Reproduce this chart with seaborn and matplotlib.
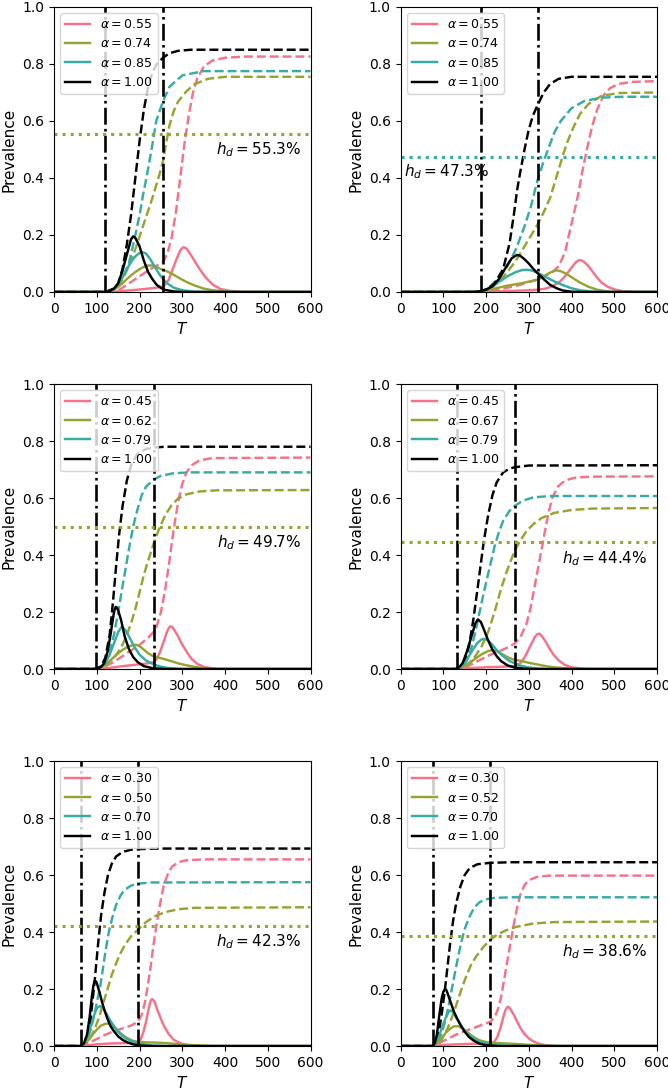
import matplotlib
matplotlib.use("Agg")
import matplotlib.pyplot as plt
import pandas as pd
import seaborn as sns

# -------------------------------------------------
# values, (T, prevalence) pairs
# -------------------------------------------------

# top-left
A_ALPHA = [0.55, 0.74, 0.85, 1.00]
A_SWITCH = [120, 255]
A_HD = 55.3
A_SOLID = [
    [(0, 0), (120, 0), (150, 0.002), (180, 0.006), (210, 0.01), (240, 0.015), (255, 0.02), (262, 0.03), (268, 0.042), (275, 0.07), (285, 0.11), (295, 0.145), (299, 0.153), (303, 0.157), (310, 0.152), (320, 0.13), (330, 0.105), (342, 0.077), (355, 0.05), (372, 0.025), (390, 0.01), (410, 0.004), (440, 0), (600, 0)],
    [(0, 0), (120, 0), (130, 0.002), (140, 0.008), (150, 0.018), (160, 0.03), (170, 0.045), (180, 0.058), (190, 0.07), (200, 0.08), (210, 0.088), (220, 0.093), (230, 0.093), (240, 0.088), (250, 0.08), (255, 0.076), (265, 0.072), (280, 0.06), (295, 0.047), (310, 0.035), (330, 0.022), (350, 0.012), (370, 0.006), (400, 0.002), (430, 0), (600, 0)],
    [(0, 0), (120, 0), (130, 0.003), (140, 0.01), (150, 0.025), (160, 0.05), (170, 0.08), (180, 0.105), (190, 0.125), (200, 0.137), (206, 0.14), (215, 0.135), (225, 0.115), (235, 0.09), (245, 0.065), (255, 0.045), (265, 0.03), (280, 0.015), (300, 0.006), (330, 0.001), (360, 0), (600, 0)],
    [(0, 0), (120, 0), (130, 0.003), (140, 0.012), (150, 0.03), (160, 0.075), (170, 0.13), (180, 0.185), (185, 0.195), (190, 0.19), (200, 0.16), (210, 0.11), (220, 0.07), (230, 0.045), (240, 0.025), (250, 0.014), (260, 0.007), (280, 0.002), (300, 0), (600, 0)],
]
A_DASHED = [
    [(0, 0), (120, 0), (150, 0.005), (175, 0.03), (200, 0.055), (225, 0.08), (255, 0.105), (265, 0.135), (275, 0.19), (285, 0.28), (295, 0.4), (305, 0.52), (315, 0.62), (325, 0.7), (335, 0.75), (350, 0.79), (370, 0.812), (400, 0.822), (450, 0.826), (600, 0.826)],
    [(0, 0), (120, 0), (140, 0.008), (150, 0.02), (160, 0.045), (170, 0.075), (180, 0.11), (190, 0.15), (200, 0.195), (210, 0.24), (220, 0.285), (230, 0.33), (245, 0.405), (255, 0.46), (263, 0.53), (270, 0.585), (280, 0.635), (290, 0.668), (310, 0.705), (330, 0.73), (360, 0.748), (400, 0.755), (600, 0.755)],
    [(0, 0), (120, 0), (140, 0.01), (150, 0.025), (160, 0.05), (175, 0.1), (190, 0.2), (200, 0.27), (208, 0.34), (216, 0.4), (228, 0.5), (239, 0.6), (255, 0.67), (270, 0.72), (300, 0.76), (350, 0.775), (600, 0.775)],
    [(0, 0), (120, 0), (140, 0.012), (150, 0.03), (160, 0.08), (170, 0.165), (180, 0.27), (190, 0.4), (200, 0.53), (210, 0.64), (220, 0.72), (230, 0.77), (240, 0.8), (255, 0.822), (270, 0.838), (290, 0.846), (320, 0.85), (600, 0.85)],
]

# top-right
B_ALPHA = [0.55, 0.74, 0.85, 1.00]
B_SWITCH = [189, 322]
B_HD = 47.3
B_SOLID = [
    [(0, 0), (189, 0), (250, 0.003), (300, 0.006), (322, 0.008), (340, 0.012), (355, 0.02), (372, 0.035), (385, 0.055), (395, 0.075), (405, 0.095), (411, 0.105), (418, 0.112), (424, 0.11), (430, 0.105), (440, 0.09), (450, 0.07), (460, 0.05), (470, 0.033), (485, 0.018), (500, 0.009), (520, 0.003), (550, 0), (600, 0)],
    [(0, 0), (180, 0), (189, 0.002), (200, 0.005), (220, 0.012), (250, 0.022), (280, 0.03), (300, 0.036), (322, 0.043), (335, 0.055), (350, 0.068), (364, 0.076), (375, 0.073), (390, 0.062), (405, 0.047), (420, 0.033), (440, 0.018), (460, 0.008), (480, 0.003), (500, 0), (600, 0)],
    [(0, 0), (170, 0), (189, 0.003), (200, 0.008), (215, 0.02), (230, 0.035), (250, 0.055), (270, 0.07), (285, 0.077), (298, 0.078), (310, 0.074), (322, 0.066), (340, 0.052), (360, 0.037), (380, 0.024), (400, 0.013), (420, 0.006), (450, 0.001), (470, 0), (600, 0)],
    [(0, 0), (170, 0), (189, 0.003), (200, 0.008), (215, 0.02), (230, 0.045), (240, 0.07), (250, 0.095), (260, 0.118), (272, 0.13), (280, 0.127), (290, 0.115), (300, 0.1), (310, 0.082), (322, 0.064), (335, 0.045), (350, 0.025), (365, 0.013), (380, 0.005), (400, 0.001), (420, 0), (600, 0)],
]
B_DASHED = [
    [(0, 0), (189, 0), (220, 0.005), (250, 0.015), (280, 0.025), (300, 0.035), (322, 0.045), (340, 0.058), (355, 0.07), (370, 0.09), (385, 0.14), (400, 0.24), (414, 0.33), (425, 0.42), (436, 0.5), (448, 0.58), (460, 0.64), (475, 0.69), (490, 0.715), (510, 0.73), (540, 0.737), (600, 0.74)],
    [(0, 0), (189, 0), (210, 0.012), (230, 0.035), (250, 0.07), (270, 0.11), (290, 0.16), (310, 0.21), (322, 0.24), (335, 0.28), (350, 0.33), (360, 0.38), (370, 0.43), (380, 0.48), (390, 0.525), (405, 0.58), (420, 0.625), (440, 0.66), (470, 0.688), (510, 0.698), (600, 0.7)],
    [(0, 0), (189, 0), (210, 0.02), (230, 0.05), (250, 0.09), (270, 0.15), (290, 0.23), (305, 0.3), (315, 0.36), (322, 0.4), (333, 0.45), (345, 0.5), (360, 0.56), (375, 0.6), (400, 0.645), (430, 0.67), (470, 0.682), (520, 0.685), (600, 0.685)],
    [(0, 0), (180, 0), (189, 0.003), (205, 0.012), (220, 0.03), (240, 0.08), (255, 0.17), (265, 0.27), (273, 0.36), (280, 0.42), (290, 0.5), (300, 0.57), (310, 0.62), (322, 0.66), (335, 0.7), (350, 0.73), (370, 0.748), (400, 0.755), (600, 0.755)],
]

# middle-left
C_ALPHA = [0.45, 0.62, 0.79, 1.00]
C_SWITCH = [99, 233]
C_HD = 49.7
C_SOLID = [
    [(0, 0), (99, 0), (130, 0.004), (160, 0.01), (190, 0.015), (220, 0.02), (233, 0.024), (240, 0.035), (248, 0.06), (256, 0.095), (264, 0.13), (268, 0.143), (272, 0.15), (276, 0.148), (280, 0.14), (290, 0.115), (300, 0.085), (311, 0.058), (322, 0.035), (335, 0.018), (350, 0.008), (370, 0.002), (400, 0), (600, 0)],
    [(0, 0), (99, 0), (110, 0.005), (120, 0.015), (130, 0.028), (140, 0.042), (150, 0.055), (160, 0.067), (170, 0.076), (180, 0.082), (192, 0.085), (200, 0.08), (210, 0.068), (220, 0.055), (233, 0.044), (245, 0.04), (260, 0.034), (275, 0.027), (290, 0.02), (310, 0.013), (330, 0.007), (350, 0.003), (380, 0), (600, 0)],
    [(0, 0), (99, 0), (110, 0.006), (120, 0.02), (130, 0.05), (140, 0.09), (150, 0.13), (158, 0.148), (165, 0.14), (175, 0.115), (187, 0.08), (200, 0.05), (215, 0.03), (233, 0.016), (250, 0.008), (270, 0.003), (300, 0), (600, 0)],
    [(0, 0), (95, 0), (100, 0.001), (110, 0.008), (117, 0.02), (125, 0.06), (132, 0.12), (138, 0.18), (141, 0.205), (144, 0.218), (147, 0.215), (150, 0.205), (157, 0.17), (165, 0.115), (175, 0.07), (185, 0.042), (195, 0.025), (210, 0.01), (230, 0.003), (260, 0), (600, 0)],
]
C_DASHED = [
    [(0, 0), (99, 0), (120, 0.01), (140, 0.025), (160, 0.045), (180, 0.065), (200, 0.085), (220, 0.11), (233, 0.13), (240, 0.15), (250, 0.2), (260, 0.28), (268, 0.36), (276, 0.45), (284, 0.53), (292, 0.6), (300, 0.65), (310, 0.69), (322, 0.715), (340, 0.732), (370, 0.74), (600, 0.742)],
    [(0, 0), (99, 0), (110, 0.004), (120, 0.012), (130, 0.025), (140, 0.04), (150, 0.06), (160, 0.085), (170, 0.12), (180, 0.16), (190, 0.21), (200, 0.27), (210, 0.33), (220, 0.38), (233, 0.44), (245, 0.49), (260, 0.54), (275, 0.575), (290, 0.598), (310, 0.613), (340, 0.623), (380, 0.627), (600, 0.628)],
    [(0, 0), (99, 0), (110, 0.006), (120, 0.025), (130, 0.06), (140, 0.12), (150, 0.2), (160, 0.29), (167, 0.35), (175, 0.42), (185, 0.5), (195, 0.56), (205, 0.61), (215, 0.64), (233, 0.665), (250, 0.678), (280, 0.687), (320, 0.69), (600, 0.69)],
    [(0, 0), (99, 0), (110, 0.01), (120, 0.04), (130, 0.12), (138, 0.24), (145, 0.36), (152, 0.47), (160, 0.57), (170, 0.66), (180, 0.715), (195, 0.755), (215, 0.772), (233, 0.777), (260, 0.78), (600, 0.78)],
]

# middle-right
D_ALPHA = [0.45, 0.67, 0.79, 1.00]
D_SWITCH = [132, 267]
D_HD = 44.4
D_SOLID = [
    [(0, 0), (132, 0), (160, 0.003), (200, 0.006), (240, 0.008), (267, 0.01), (280, 0.02), (290, 0.04), (300, 0.07), (310, 0.1), (315, 0.114), (320, 0.122), (324, 0.124), (328, 0.12), (338, 0.1), (348, 0.073), (358, 0.05), (370, 0.03), (385, 0.014), (400, 0.006), (430, 0.001), (450, 0), (600, 0)],
    [(0, 0), (132, 0), (145, 0.007), (160, 0.02), (175, 0.036), (190, 0.052), (205, 0.063), (215, 0.066), (225, 0.063), (240, 0.05), (255, 0.038), (267, 0.032), (280, 0.029), (300, 0.022), (320, 0.016), (340, 0.01), (360, 0.006), (390, 0.002), (420, 0), (600, 0)],
    [(0, 0), (132, 0), (140, 0.005), (150, 0.02), (160, 0.045), (170, 0.07), (180, 0.092), (190, 0.104), (197, 0.106), (205, 0.1), (215, 0.085), (225, 0.066), (240, 0.045), (255, 0.028), (267, 0.02), (280, 0.012), (300, 0.005), (330, 0.001), (350, 0), (600, 0)],
    [(0, 0), (130, 0), (135, 0.003), (145, 0.02), (155, 0.06), (165, 0.11), (175, 0.16), (181, 0.174), (188, 0.165), (196, 0.135), (205, 0.1), (215, 0.068), (225, 0.045), (235, 0.028), (250, 0.013), (265, 0.006), (290, 0.001), (320, 0), (600, 0)],
]
D_DASHED = [
    [(0, 0), (132, 0), (150, 0.005), (170, 0.02), (190, 0.035), (210, 0.05), (230, 0.062), (250, 0.075), (267, 0.09), (280, 0.11), (295, 0.16), (305, 0.22), (315, 0.3), (325, 0.38), (335, 0.46), (345, 0.54), (355, 0.6), (368, 0.64), (385, 0.662), (410, 0.672), (450, 0.675), (600, 0.676)],
    [(0, 0), (132, 0), (145, 0.005), (160, 0.02), (175, 0.045), (190, 0.08), (205, 0.13), (220, 0.2), (235, 0.28), (248, 0.34), (258, 0.38), (267, 0.415), (280, 0.45), (295, 0.485), (312, 0.51), (330, 0.53), (360, 0.548), (400, 0.558), (450, 0.563), (600, 0.565)],
    [(0, 0), (132, 0), (145, 0.01), (155, 0.03), (165, 0.07), (175, 0.13), (185, 0.2), (195, 0.27), (209, 0.36), (220, 0.43), (230, 0.48), (240, 0.52), (255, 0.555), (267, 0.572), (285, 0.59), (310, 0.602), (350, 0.607), (600, 0.607)],
    [(0, 0), (130, 0), (140, 0.007), (150, 0.03), (160, 0.08), (170, 0.17), (180, 0.28), (187, 0.36), (195, 0.45), (205, 0.54), (215, 0.61), (225, 0.655), (240, 0.69), (255, 0.703), (267, 0.708), (300, 0.714), (600, 0.715)],
]

# bottom-left
E_ALPHA = [0.30, 0.50, 0.70, 1.00]
E_SWITCH = [62, 196]
E_HD = 42.3
E_SOLID = [
    [(0, 0), (62, 0), (80, 0.003), (100, 0.006), (130, 0.009), (160, 0.01), (185, 0.011), (196, 0.012), (203, 0.025), (209, 0.05), (215, 0.085), (221, 0.13), (225, 0.155), (228, 0.164), (231, 0.164), (235, 0.155), (242, 0.125), (250, 0.095), (258, 0.068), (268, 0.042), (280, 0.022), (295, 0.01), (310, 0.004), (330, 0.001), (350, 0), (600, 0)],
    [(0, 0), (62, 0), (70, 0.005), (80, 0.02), (90, 0.04), (100, 0.058), (110, 0.072), (120, 0.078), (128, 0.079), (136, 0.073), (145, 0.06), (155, 0.046), (165, 0.034), (175, 0.025), (185, 0.018), (196, 0.015), (215, 0.013), (240, 0.012), (265, 0.01), (290, 0.007), (315, 0.004), (340, 0.002), (370, 0), (600, 0)],
    [(0, 0), (62, 0), (70, 0.008), (78, 0.03), (86, 0.07), (94, 0.11), (101, 0.135), (108, 0.14), (115, 0.132), (122, 0.115), (130, 0.093), (140, 0.07), (150, 0.05), (160, 0.035), (170, 0.025), (180, 0.018), (196, 0.01), (210, 0.006), (230, 0.002), (260, 0), (600, 0)],
    [(0, 0), (62, 0), (70, 0.01), (77, 0.04), (83, 0.1), (88, 0.17), (92, 0.212), (95, 0.229), (98, 0.227), (100, 0.22), (106, 0.19), (112, 0.155), (118, 0.125), (125, 0.095), (132, 0.07), (140, 0.052), (150, 0.034), (160, 0.022), (171, 0.013), (185, 0.006), (200, 0.002), (230, 0), (600, 0)],
]
E_DASHED = [
    [(0, 0), (62, 0), (80, 0.01), (100, 0.025), (120, 0.04), (140, 0.052), (160, 0.062), (180, 0.072), (196, 0.085), (205, 0.11), (212, 0.15), (219, 0.21), (226, 0.28), (233, 0.36), (240, 0.43), (248, 0.5), (256, 0.56), (265, 0.6), (275, 0.628), (290, 0.645), (310, 0.652), (350, 0.655), (600, 0.655)],
    [(0, 0), (62, 0), (75, 0.01), (85, 0.03), (95, 0.06), (105, 0.1), (115, 0.15), (125, 0.2), (135, 0.25), (145, 0.29), (155, 0.325), (167, 0.358), (180, 0.385), (196, 0.408), (215, 0.435), (235, 0.455), (260, 0.47), (290, 0.48), (330, 0.485), (600, 0.487)],
    [(0, 0), (62, 0), (70, 0.005), (78, 0.025), (86, 0.06), (94, 0.11), (101, 0.16), (108, 0.21), (115, 0.28), (121, 0.34), (128, 0.4), (136, 0.45), (145, 0.495), (155, 0.527), (165, 0.548), (180, 0.563), (196, 0.57), (230, 0.574), (600, 0.575)],
    [(0, 0), (62, 0), (70, 0.005), (78, 0.03), (85, 0.09), (90, 0.16), (95, 0.23), (103, 0.36), (110, 0.46), (118, 0.54), (126, 0.6), (135, 0.64), (145, 0.665), (160, 0.681), (180, 0.689), (196, 0.691), (250, 0.693), (600, 0.693)],
]

# bottom-right
F_ALPHA = [0.30, 0.52, 0.70, 1.00]
F_SWITCH = [75, 210]
F_HD = 38.6
F_SOLID = [
    [(0, 0), (75, 0), (100, 0.004), (130, 0.006), (170, 0.008), (210, 0.009), (218, 0.012), (226, 0.03), (234, 0.065), (242, 0.11), (246, 0.128), (250, 0.137), (253, 0.137), (257, 0.13), (265, 0.11), (273, 0.085), (281, 0.062), (290, 0.042), (300, 0.027), (310, 0.017), (320, 0.01), (335, 0.004), (360, 0), (600, 0)],
    [(0, 0), (75, 0), (85, 0.008), (95, 0.025), (105, 0.045), (115, 0.06), (125, 0.069), (135, 0.07), (145, 0.062), (155, 0.05), (165, 0.038), (175, 0.028), (185, 0.02), (198, 0.015), (210, 0.012), (235, 0.01), (260, 0.008), (285, 0.006), (310, 0.003), (340, 0.001), (370, 0), (600, 0)],
    [(0, 0), (75, 0), (82, 0.008), (90, 0.035), (98, 0.07), (106, 0.1), (112, 0.118), (117, 0.125), (123, 0.12), (130, 0.1), (138, 0.08), (147, 0.06), (156, 0.045), (166, 0.032), (176, 0.022), (187, 0.014), (200, 0.009), (215, 0.005), (240, 0.002), (260, 0), (600, 0)],
    [(0, 0), (75, 0), (80, 0.01), (85, 0.04), (90, 0.1), (96, 0.165), (100, 0.19), (104, 0.2), (107, 0.197), (110, 0.185), (117, 0.155), (125, 0.12), (133, 0.095), (141, 0.072), (150, 0.05), (160, 0.032), (172, 0.018), (185, 0.008), (200, 0.003), (230, 0), (600, 0)],
]
F_DASHED = [
    [(0, 0), (75, 0), (90, 0.01), (110, 0.025), (130, 0.04), (150, 0.052), (170, 0.063), (190, 0.074), (210, 0.085), (220, 0.1), (228, 0.13), (235, 0.17), (242, 0.23), (250, 0.3), (257, 0.36), (264, 0.42), (272, 0.48), (280, 0.53), (290, 0.565), (300, 0.582), (320, 0.594), (350, 0.598), (600, 0.598)],
    [(0, 0), (75, 0), (85, 0.005), (95, 0.02), (105, 0.045), (115, 0.08), (125, 0.12), (135, 0.165), (145, 0.21), (155, 0.25), (165, 0.285), (175, 0.31), (185, 0.33), (195, 0.35), (210, 0.372), (225, 0.39), (245, 0.405), (270, 0.418), (310, 0.43), (360, 0.435), (600, 0.437)],
    [(0, 0), (75, 0), (85, 0.01), (95, 0.04), (105, 0.09), (115, 0.16), (125, 0.24), (133, 0.3), (141, 0.358), (150, 0.41), (160, 0.45), (172, 0.485), (185, 0.505), (200, 0.515), (220, 0.52), (260, 0.522), (600, 0.522)],
    [(0, 0), (75, 0), (82, 0.01), (90, 0.05), (97, 0.12), (104, 0.2), (110, 0.28), (116, 0.36), (123, 0.44), (130, 0.5), (140, 0.56), (150, 0.6), (162, 0.625), (180, 0.638), (210, 0.643), (260, 0.645), (600, 0.645)],
]

# panel: alphas, switch times, h_d, solid, dashed, colour index of h_d line, side of h_d label
PANELS = [
    (A_ALPHA, A_SWITCH, A_HD, A_SOLID, A_DASHED, 1, "right"),
    (B_ALPHA, B_SWITCH, B_HD, B_SOLID, B_DASHED, 2, "left"),
    (C_ALPHA, C_SWITCH, C_HD, C_SOLID, C_DASHED, 1, "right"),
    (D_ALPHA, D_SWITCH, D_HD, D_SOLID, D_DASHED, 1, "right"),
    (E_ALPHA, E_SWITCH, E_HD, E_SOLID, E_DASHED, 1, "right"),
    (F_ALPHA, F_SWITCH, F_HD, F_SOLID, F_DASHED, 1, "right"),
]

COLORS = sns.color_palette("husl", 4)[:3] + [(0.0, 0.0, 0.0)]


def to_frame(curves, labels):
    rows = []
    for lab, pts in zip(labels, curves):
        for t, v in pts:
            rows.append({"T": t, "prev": v, "alpha": lab})
    return pd.DataFrame(rows)


def draw_panel(ax, alphas, switch, hd, solid, dashed, hd_color, side):
    labels = [rf"$\alpha = {a:.2f}$" for a in alphas]

    sns.lineplot(data=to_frame(dashed, labels), x="T", y="prev", hue="alpha",
                 hue_order=labels, palette=COLORS, linestyle="--", lw=1.75,
                 errorbar=None, legend=False, ax=ax)
    sns.lineplot(data=to_frame(solid, labels), x="T", y="prev", hue="alpha",
                 hue_order=labels, palette=COLORS, lw=1.75,
                 errorbar=None, legend=True, ax=ax)

    for t in switch:
        ax.axvline(t, color="k", ls="-.", lw=1.9)
    ax.axhline(hd / 100, color=COLORS[hd_color], ls=":", lw=2.2)

    txt = rf"$h_d = {hd:.1f}\%$"
    if side == "right":
        ax.text(578, hd / 100 - 0.055, txt, ha="right", va="center", fontsize=11)
    else:
        ax.text(8, hd / 100 - 0.052, txt, ha="left", va="center", fontsize=11)

    leg = ax.get_legend()
    handles = leg.legend_handles
    ax.legend(handles, labels, loc="upper left", fontsize=9)

    ax.set_xlim(0, 600)
    ax.set_ylim(0, 1)
    ax.set_xticks(range(0, 601, 100))
    ax.set_yticks([0, 0.2, 0.4, 0.6, 0.8, 1.0])
    ax.set_xlabel("$T$", fontsize=11)
    ax.set_ylabel("Prevalence", fontsize=11)
    ax.tick_params(labelsize=10)


fig, axes = plt.subplots(3, 2, figsize=(6.68, 10.91), dpi=100)
fig.subplots_adjust(left=0.081, right=0.9835, top=0.9936, bottom=0.0412,
                    wspace=0.351, hspace=0.323)

for ax, panel in zip(axes.flat, PANELS):
    draw_panel(ax, *panel)

fig.savefig("out.png", dpi=100)
